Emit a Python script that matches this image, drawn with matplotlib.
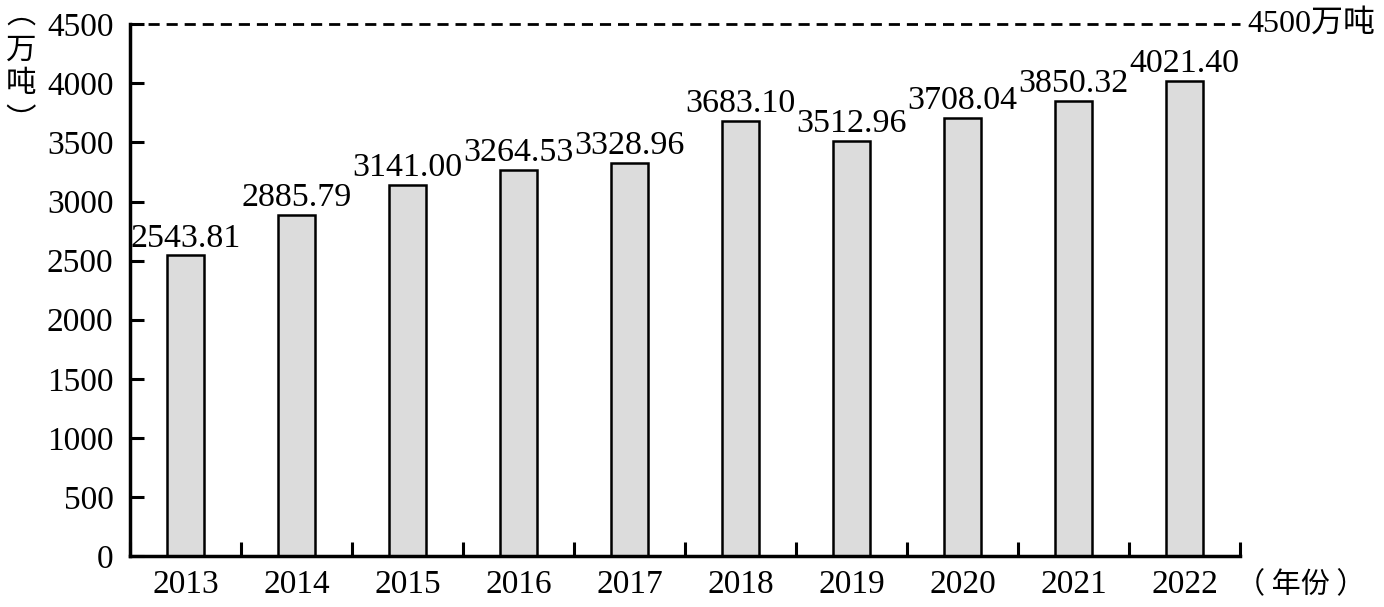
import numpy as np
import matplotlib.pyplot as plt

years = ["2013", "2014", "2015", "2016", "2017", "2018", "2019", "2020", "2021", "2022"]
values = [2543.81, 2885.79, 3141.00, 3264.53, 3328.96, 3683.10, 3512.96, 3708.04, 3850.32, 4021.40]
yticks = [0, 500, 1000, 1500, 2000, 2500, 3000, 3500, 4000, 4500]
target = 4500

num_font = "Liberation Serif"
mixed_font = ["Liberation Serif", "Noto Sans CJK SC", "DejaVu Sans"]
cjk_font = ["Noto Sans CJK SC", "DejaVu Sans"]

fig = plt.figure(figsize=(13.84, 6.07), dpi=100)
ax = fig.add_axes([0.094, 0.084, 0.802, 0.876])

x = np.arange(len(years))
ax.bar(x, values, width=0.34, color="#dcdcdc", edgecolor="black", linewidth=1.8)

for xi, v in zip(x, values):
    ax.text(xi, v + 15, f"{v:.2f}", ha="center", va="bottom",
            fontsize=24.5, family=num_font)

# target line
ax.axhline(target, color="black", linestyle=(0, (4, 2.5)), linewidth=2, clip_on=False)
ax.annotate(f"{target}万吨", xy=(len(years) - 0.5, target), xytext=(5, 0),
            textcoords="offset points", ha="left", va="center",
            fontsize=23, family=mixed_font)

ax.set_xlim(-0.5, len(years) - 0.5)
ax.set_ylim(0, 4500)
ax.set_yticks(yticks)
ax.set_yticklabels([str(t) for t in yticks], fontsize=24, family=num_font)
ax.set_xticks(x)
ax.set_xticklabels(years, fontsize=24, family=num_font)
ax.tick_params(axis="x", length=0, pad=10)
ax.set_xticks(np.arange(len(years) + 1) - 0.5, minor=True)
ax.tick_params(axis="x", which="minor", direction="in", length=10, width=2.2)
ax.tick_params(axis="y", direction="in", length=10, width=2.2, pad=12)

for s in ["top", "right"]:
    ax.spines[s].set_visible(False)
for s in ["left", "bottom"]:
    ax.spines[s].set_linewidth(2.5)

# vertical unit label on the left
W, H = 1384, 607
fig.text(21 / W, 1.0, "︵", ha="center", va="top", fontsize=21, family=cjk_font)
for ch, py in [("万", 50), ("吨", 83), ("︶", 121)]:
    fig.text(21 / W, 1 - py / H, ch, ha="center", va="center", fontsize=22,
             family=cjk_font)

fig.text(1366 / W, 1 - 585 / H, "（ 年份 ）", ha="right", va="center", fontsize=21,
         family=cjk_font)

fig.savefig("out.png", dpi=100)
